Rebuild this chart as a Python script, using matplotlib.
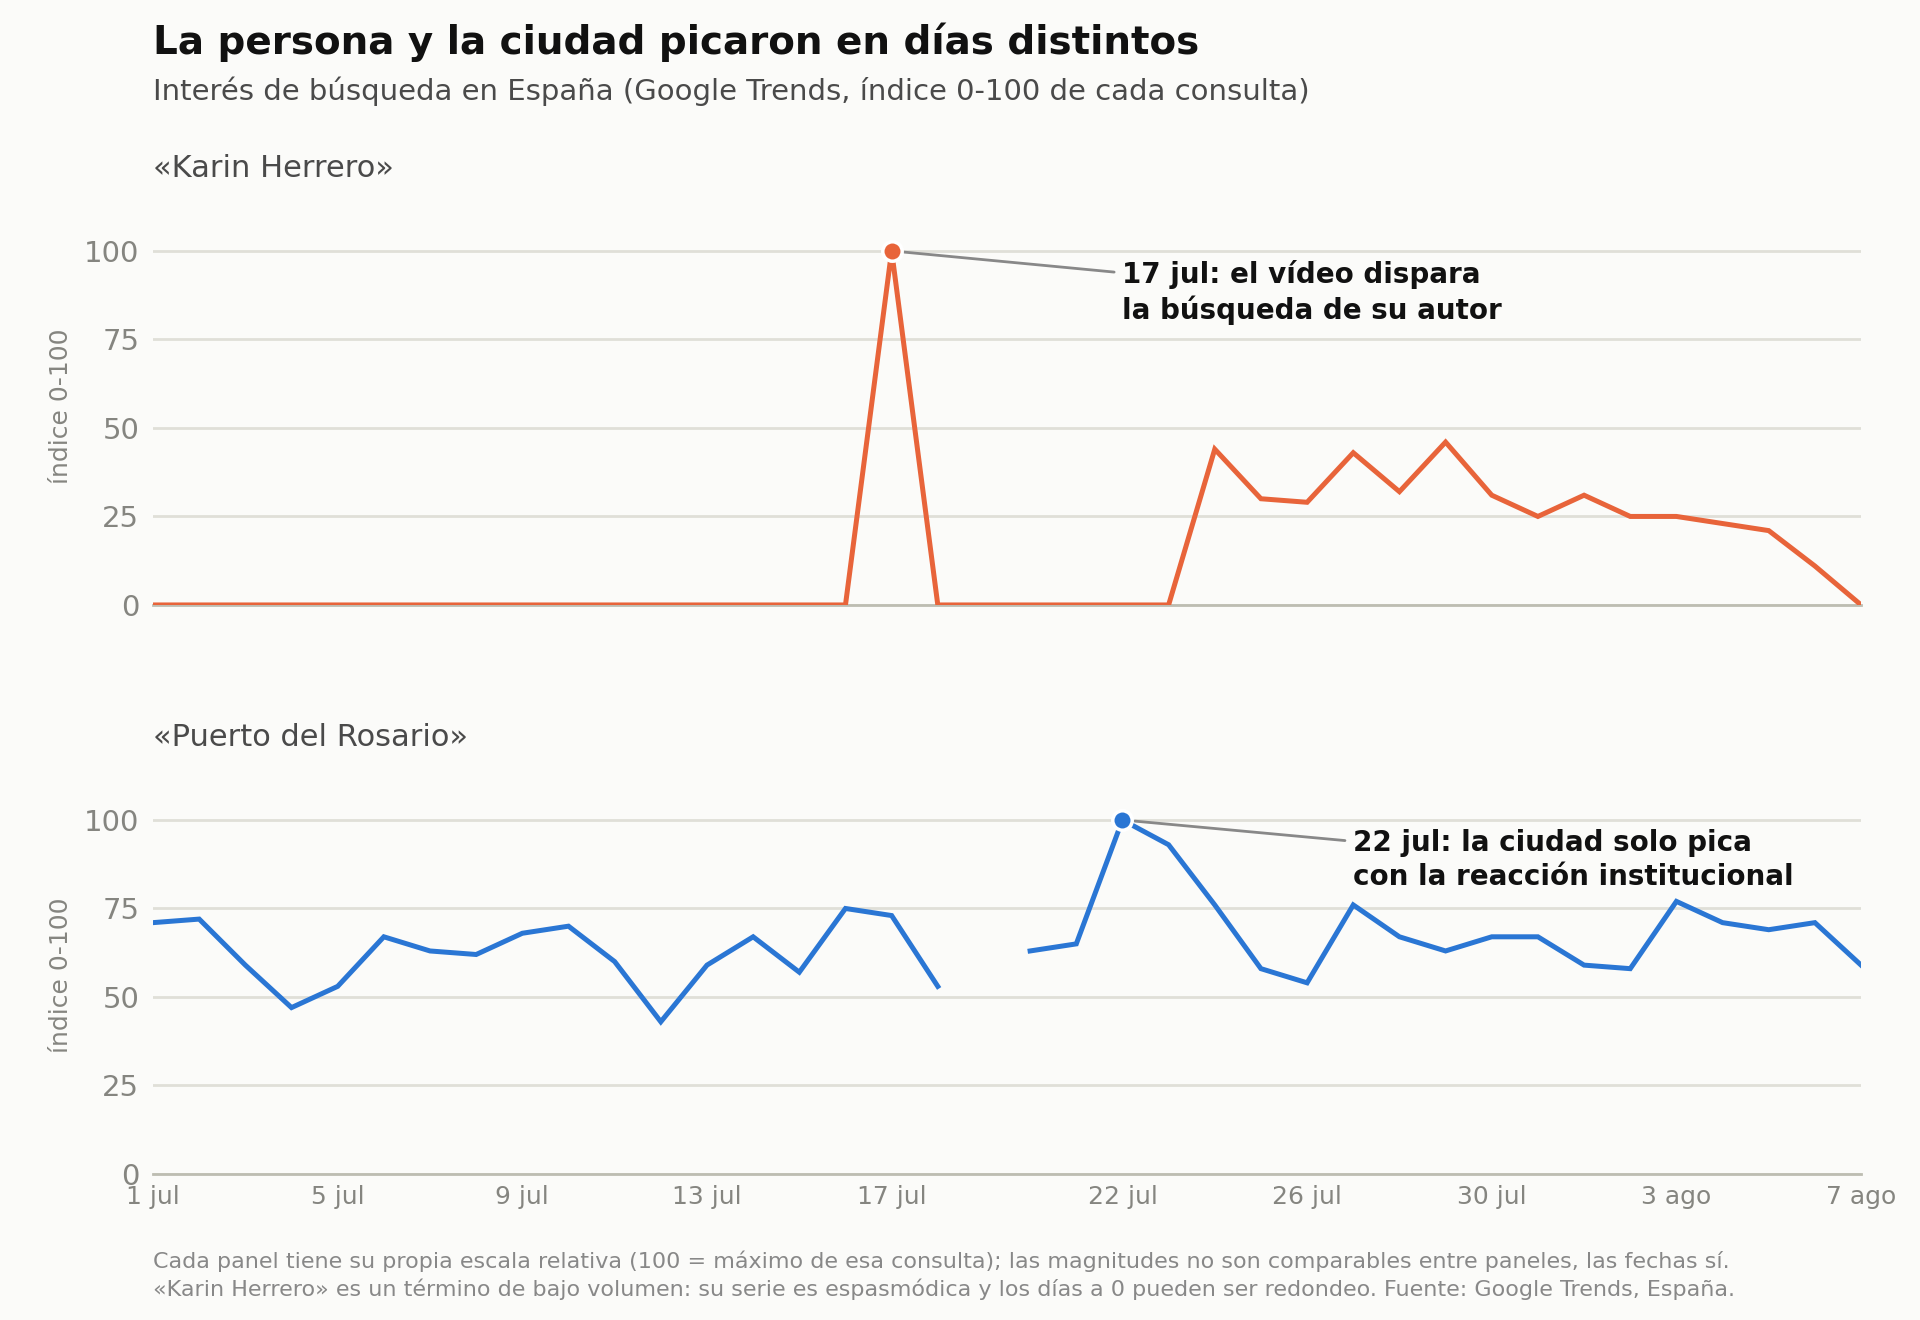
import numpy as np
import pandas as pd
import matplotlib
matplotlib.use("Agg")
import matplotlib.pyplot as plt

# Datos (Google Trends, índice 0-100, 1 jul - 7 ago)
fechas = pd.date_range("2024-07-01", "2024-08-07", freq="D")

karin = [0, 0, 0, 0, 0, 0, 0, 0, 0, 0, 0, 0, 0, 0, 0, 0,
         100, 0, 0, 0, 0, 0, 0,
         44, 30, 29, 43, 32, 46, 31, 25, 31, 25, 25, 23, 21, 11, 0]

puerto = [71, 72, 59, 47, 53, 67, 63, 62, 68, 70, 60, 43, 59, 67, 57, 75, 73, 53,
          np.nan, 63, 65, 100, 93, 76, 58, 54, 76, 67, 63, 67, 67, 59, 58, 77, 71, 69, 71, 59]

tick_dias = [1, 5, 9, 13, 17, 22, 26, 30, 34, 38]
tick_labels = ["1 jul", "5 jul", "9 jul", "13 jul", "17 jul", "22 jul", "26 jul", "30 jul", "3 ago", "7 ago"]

paneles = [
    ("«Karin Herrero»", karin, "#E8643A", "17 jul: el vídeo dispara\nla búsqueda de su autor"),
    ("«Puerto del Rosario»", puerto, "#2A76D4", "22 jul: la ciudad solo pica\ncon la reacción institucional"),
]

BG = "#FBFBF9"
GRID = "#E0DFD8"
GRIS = "#858580"

fig = plt.figure(figsize=(19.2, 13.2), dpi=100, facecolor=BG)

fig.text(0.0797, 0.968, "La persona y la ciudad picaron en días distintos",
         fontsize=28, fontweight="bold", color="#111111", va="center")
fig.text(0.0797, 0.931, "Interés de búsqueda en España (Google Trends, índice 0-100 de cada consulta)",
         fontsize=21, color="#4A4A4A", va="center")

x = np.arange(len(fechas))
posiciones = [0.5417, 0.1106]

for (nombre, serie, color, nota), y0 in zip(paneles, posiciones):
    ax = fig.add_axes([0.0797, y0, 0.8896, 0.3004])
    ax.set_facecolor(BG)
    s = np.array(serie, dtype=float)
    ax.plot(x, s, color=color, lw=3.6, zorder=3, solid_joinstyle="miter")

    i_max = int(np.nanargmax(s))
    ax.plot(x[i_max], s[i_max], "o", color=color, markersize=14,
            markeredgecolor="white", markeredgewidth=2.5, zorder=4)
    ax.annotate(nota, xy=(x[i_max], s[i_max]), xytext=(x[i_max] + 5, 97.5),
                ha="left", va="top", fontsize=20, fontweight="bold", color="#111111",
                linespacing=1.3,
                arrowprops=dict(arrowstyle="-", color="#888888", lw=2,
                                relpos=(0, 0.8), shrinkA=4, shrinkB=9))

    ax.set_xlim(0, len(fechas) - 1)
    ax.set_ylim(0, 112)
    ax.set_yticks([0, 25, 50, 75, 100])
    ax.grid(axis="y", color=GRID, lw=2)
    ax.set_axisbelow(True)
    for lado in ["top", "right", "left"]:
        ax.spines[lado].set_visible(False)
    ax.spines["bottom"].set_color("#BDBDB2")
    ax.spines["bottom"].set_linewidth(2)
    ax.tick_params(axis="both", length=0, colors=GRIS)
    ax.tick_params(axis="y", labelsize=21, pad=10)
    ax.tick_params(axis="x", labelsize=18, pad=8)
    ax.set_ylabel("índice 0-100", fontsize=18, color=GRIS, labelpad=8)
    ax.text(0, 1.10, nombre, transform=ax.transAxes, fontsize=22, color="#4A4A4A", va="center")

    ax.set_xticks([d - 1 for d in tick_dias])
    if y0 == posiciones[-1]:
        ax.set_xticklabels(tick_labels)
    else:
        ax.set_xticklabels([])

fig.text(0.0797, 0.0447,
         "Cada panel tiene su propia escala relativa (100 = máximo de esa consulta); "
         "las magnitudes no son comparables entre paneles, las fechas sí.",
         fontsize=16, color="#888888", va="center")
fig.text(0.0797, 0.0235,
         "«Karin Herrero» es un término de bajo volumen: su serie es espasmódica "
         "y los días a 0 pueden ser redondeo. Fuente: Google Trends, España.",
         fontsize=16, color="#888888", va="center")

fig.savefig("out.png", dpi=100, facecolor=BG)
